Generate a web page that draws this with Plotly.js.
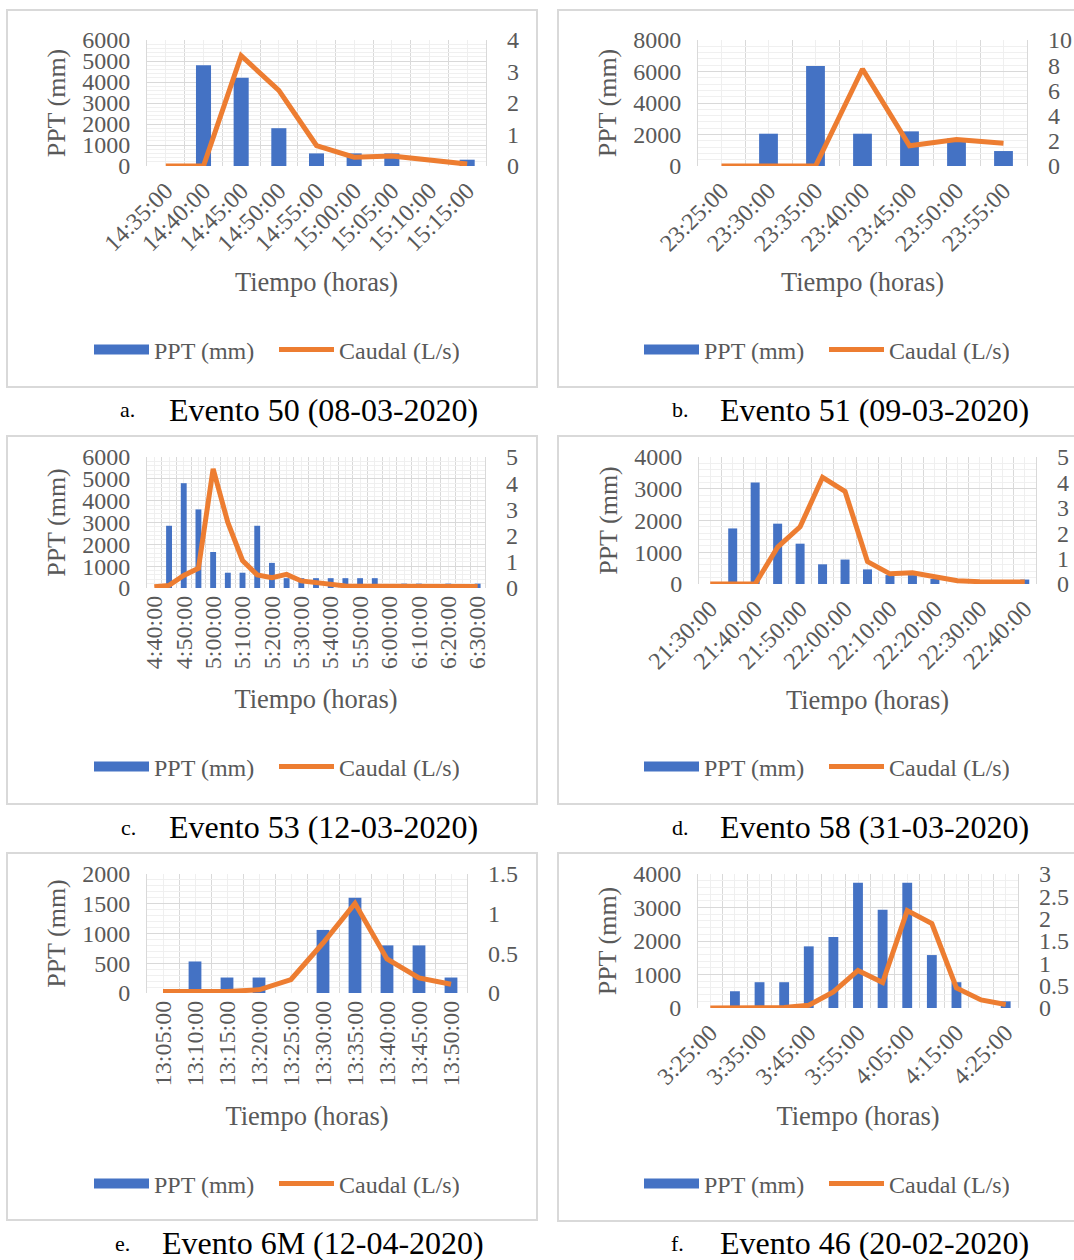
<!DOCTYPE html>
<html>
<head>
<meta charset="utf-8">
<script src="https://cdn.plot.ly/plotly-3.0.1.min.js"></script>
<style>
  html, body { margin: 0; padding: 0; background: #ffffff; }
  #chart { width: 1074px; height: 1260px; }
</style>
</head>
<body>
<div id="chart"></div>
<script>
// ---- Evento 50 (08-03-2020) ----
const tiempo50 = ['14:35:00', '14:40:00', '14:45:00', '14:50:00', '14:55:00', '15:00:00', '15:05:00', '15:10:00', '15:15:00'];
const ppt50    = [0, 4800, 4200, 1800, 600, 600, 600, 0, 300];
const caudal50 = [0, 0, 3.5, 2.4, 0.65, 0.28, 0.32, 0.18, 0.06];

// ---- Evento 51 (09-03-2020) ----
const tiempo51 = ['23:25:00', '23:30:00', '23:35:00', '23:40:00', '23:45:00', '23:50:00', '23:55:00'];
const ppt51    = [0, 2050, 6350, 2050, 2200, 1750, 950];
const caudal51 = [0, 0, 0, 7.7, 1.6, 2.1, 1.8];

// ---- Evento 53 (12-03-2020) ----
const tiempo53 = ['4:40:00', '4:45:00', '4:50:00', '4:55:00', '5:00:00', '5:05:00', '5:10:00', '5:15:00',
                  '5:20:00', '5:25:00', '5:30:00', '5:35:00', '5:40:00', '5:45:00', '5:50:00', '5:55:00',
                  '6:00:00', '6:05:00', '6:10:00', '6:15:00', '6:20:00', '6:25:00', '6:30:00'];
const ppt53    = [0, 2850, 4800, 3600, 1650, 700, 700, 2850, 1150, 450, 450, 450, 450, 450, 450, 450,
                  0, 200, 200, 0, 200, 0, 200];
const caudal53 = [0.05, 0.1, 0.48, 0.75, 4.55, 2.5, 1.05, 0.5, 0.39, 0.52, 0.27, 0.2, 0.13, 0.08, 0.07, 0.07,
                  0.07, 0.07, 0.06, 0.06, 0.06, 0.06, 0.06];

// ---- Evento 58 (31-03-2020) ----
const tiempo58 = ['21:30:00', '21:35:00', '21:40:00', '21:45:00', '21:50:00', '21:55:00', '22:00:00', '22:05:00',
                  '22:10:00', '22:15:00', '22:20:00', '22:25:00', '22:30:00', '22:35:00', '22:40:00'];
const ppt58    = [0, 1750, 3200, 1900, 1270, 620, 770, 460, 280, 280, 160, 0, 0, 0, 140];
const caudal58 = [0, 0, 0, 1.45, 2.25, 4.2, 3.65, 0.88, 0.4, 0.44, 0.27, 0.13, 0.09, 0.08, 0.08];

// ---- Evento 6M (12-04-2020) ----
const tiempo6M = ['13:05:00', '13:10:00', '13:15:00', '13:20:00', '13:25:00', '13:30:00', '13:35:00', '13:40:00', '13:45:00', '13:50:00'];
const ppt6M    = [0, 530, 260, 260, 0, 1060, 1600, 800, 800, 260];
const caudal6M = [0.02, 0.02, 0.02, 0.04, 0.17, 0.63, 1.13, 0.43, 0.19, 0.11];

// ---- Evento 46 (20-02-2020) ----
const tiempo46 = ['3:25:00', '3:30:00', '3:35:00', '3:40:00', '3:45:00', '3:50:00', '3:55:00', '4:00:00',
                  '4:05:00', '4:10:00', '4:15:00', '4:20:00', '4:25:00'];
const ppt46    = [0, 500, 770, 770, 1840, 2120, 3740, 2930, 3740, 1580, 770, 0, 200];
const caudal46 = [0, 0, 0, 0.01, 0.06, 0.36, 0.84, 0.57, 2.18, 1.89, 0.45, 0.18, 0.08];

// Captions and axis texts
const letras   = ['a.', 'b.', 'c.', 'd.', 'e.', 'f.'];
const eventos  = ['Evento 50 (08-03-2020)', 'Evento 51 (09-03-2020)', 'Evento 53 (12-03-2020)',
                  'Evento 58 (31-03-2020)', 'Evento 6M (12-04-2020)', 'Evento 46 (20-02-2020)'];
const tituloX  = 'Tiempo (horas)';
const tituloY  = 'PPT (mm)';
const serieBarras = 'PPT (mm)';
const serieLinea  = 'Caudal (L/s)';

// ---- page geometry ----
const W = 1074, H = 1260;
const FONT = 'Liberation Serif, Times New Roman, serif';
const GREY = '#595959';
const BLUE = '#4472C4';
const ORANGE = '#ED7D31';

const panels = [
  { cats: tiempo50, ppt: ppt50, q: caudal50, step: 1, angle: -45, plot: [147, 486, 40, 166],
    yMax: 6000, yDt: 1000, y2Max: 4, y2Dt: 1, leg: [274, 350], cap: [127, 167, 410], box: [7, 537, 10, 387] },
  { cats: tiempo51, ppt: ppt51, q: caudal51, step: 1, angle: -45, plot: [698, 1027, 40, 166],
    yMax: 8000, yDt: 2000, y2Max: 10, y2Dt: 2, leg: [824, 350], cap: [680, 718, 410], box: [558, 1100, 10, 387] },
  { cats: tiempo53, ppt: ppt53, q: caudal53, step: 2, angle: -90, plot: [147, 485, 457, 588],
    yMax: 6000, yDt: 1000, y2Max: 5, y2Dt: 1, leg: [274, 767], cap: [128, 167, 827], box: [7, 537, 436, 804] },
  { cats: tiempo58, ppt: ppt58, q: caudal58, step: 2, angle: -45, plot: [699, 1036, 457, 584],
    yMax: 4000, yDt: 1000, y2Max: 5, y2Dt: 1, leg: [824, 767], cap: [680, 718, 827], box: [558, 1100, 436, 804] },
  { cats: tiempo6M, ppt: ppt6M, q: caudal6M, step: 1, angle: -90, plot: [147, 467, 874, 993],
    yMax: 2000, yDt: 500, y2Max: 1.5, y2Dt: 0.5, leg: [274, 1184], cap: [122, 160, 1243], box: [7, 537, 853, 1220] },
  { cats: tiempo46, ppt: ppt46, q: caudal46, step: 2, angle: -45, plot: [698, 1018, 874, 1008],
    yMax: 4000, yDt: 1000, y2Max: 3, y2Dt: 0.5, leg: [824, 1184], cap: [678, 718, 1243], box: [558, 1100, 853, 1221] }
];

const px = x => x / W;
const py = y => 1 - y / H;

const data = [];
const layout = {
  width: W, height: H,
  margin: { l: 0, r: 0, t: 0, b: 0 },
  paper_bgcolor: '#ffffff',
  plot_bgcolor: 'rgba(0,0,0,0)',
  font: { family: FONT, color: GREY, size: 24 },
  bargap: 0.6,
  showlegend: true,
  shapes: [],
  annotations: []
};

panels.forEach((p, i) => {
  const s = i === 0 ? '' : String(i + 1);
  const r = String(i + 7);
  const legId = i === 0 ? 'legend' : 'legend' + (i + 1);
  const idx = p.cats.map((_, k) => k);
  const labels = p.cats.map((c, k) => (k % p.step === 0 ? c : ''));
  const rotated = p.angle === -45;

  // precipitation bars (left axis)
  data.push({
    type: 'bar', name: serieBarras, x: idx, y: p.ppt,
    xaxis: 'x' + s, yaxis: 'y' + s, legend: legId, showlegend: false,
    marker: { color: BLUE }, hoverinfo: 'skip'
  });
  // wide legend key for the bars
  data.push({
    type: 'scatter', mode: 'lines', name: serieBarras, x: [null], y: [null],
    xaxis: 'x' + s, yaxis: 'y' + s, legend: legId,
    line: { color: BLUE, width: 11 }, hoverinfo: 'skip'
  });
  // discharge line (right axis)
  data.push({
    type: 'scatter', mode: 'lines', name: serieLinea, x: idx, y: p.q,
    xaxis: 'x' + s, yaxis: 'y' + r, legend: legId,
    line: { color: ORANGE, width: 5 }, hoverinfo: 'skip'
  });

  layout['xaxis' + s] = {
    domain: [px(p.plot[0]), px(p.plot[1])],
    anchor: 'y' + s,
    range: [-0.5, p.cats.length - 0.5],
    tickmode: 'array', tickvals: idx, ticktext: labels,
    tickangle: p.angle,
    tickfont: { size: 24, color: GREY, family: FONT },
    ticks: '', ticklabelstandoff: rotated ? 5 : 2,
    showline: false, zeroline: false,
    showgrid: true, gridcolor: '#efefef', gridwidth: 1,
    minor: { tickmode: 'linear', tick0: -0.5, dtick: 1, showgrid: true, gridcolor: '#d9d9d9', gridwidth: 1, ticks: '' },
    title: { text: tituloX, font: { size: 26.5, color: GREY, family: FONT }, standoff: rotated ? 17 : 21 },
    automargin: false, fixedrange: true
  };
  layout['yaxis' + s] = {
    domain: [py(p.plot[3]), py(p.plot[2])],
    anchor: 'x' + s,
    range: [0, p.yMax], tick0: 0, dtick: p.yDt,
    tickfont: { size: 24, color: GREY, family: FONT },
    ticks: '', ticklabelstandoff: 11, zeroline: false,
    showgrid: true, gridcolor: '#d9d9d9', gridwidth: 1,
    minor: { dtick: p.yDt / 5, showgrid: true, gridcolor: '#f0f0f0', gridwidth: 1, ticks: '' },
    showline: true, linecolor: '#d9d9d9', linewidth: 1, mirror: true,
    title: { text: tituloY, font: { size: 26, color: GREY, family: FONT }, standoff: 9 },
    automargin: false, fixedrange: true
  };
  layout['yaxis' + r] = {
    overlaying: 'y' + s, side: 'right', anchor: 'x' + s,
    range: [0, p.y2Max], tick0: 0, dtick: p.y2Dt,
    tickfont: { size: 24, color: GREY, family: FONT },
    ticks: '', ticklabelstandoff: 20, zeroline: false, showgrid: false,
    automargin: false, fixedrange: true
  };
  layout[legId] = {
    orientation: 'h',
    x: px(p.leg[0]), xanchor: 'center',
    y: py(p.leg[1]), yanchor: 'middle',
    font: { size: 24, color: GREY, family: FONT },
    bgcolor: 'rgba(0,0,0,0)',
    itemwidth: 55, entrywidth: 115, traceorder: 'normal'
  };

  layout.shapes.push({
    type: 'rect', xref: 'paper', yref: 'paper', layer: 'below',
    x0: px(p.box[0]), x1: px(p.box[1]), y0: py(p.box[3]), y1: py(p.box[2]),
    line: { color: '#d9d9d9', width: 2 }, fillcolor: 'rgba(0,0,0,0)'
  });
  layout.annotations.push({
    xref: 'paper', yref: 'paper', x: px(p.cap[0]), y: py(p.cap[2]),
    xanchor: 'center', yanchor: 'middle', showarrow: false,
    text: letras[i], font: { size: 22, color: '#000000', family: FONT }
  });
  layout.annotations.push({
    xref: 'paper', yref: 'paper', x: px(p.cap[1]), y: py(p.cap[2]),
    xanchor: 'left', yanchor: 'middle', showarrow: false,
    text: eventos[i], font: { size: 32, color: '#000000', family: FONT }
  });
});

Plotly.newPlot('chart', data, layout, { staticPlot: true, displayModeBar: false });
</script>
</body>
</html>
